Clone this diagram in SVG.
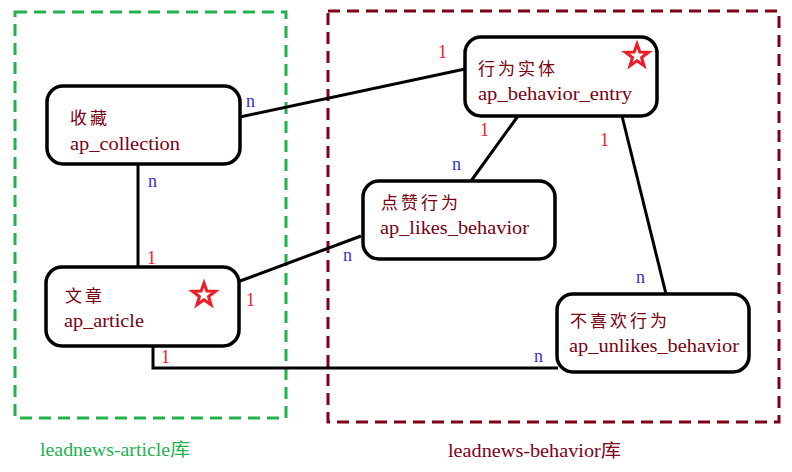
<svg xmlns="http://www.w3.org/2000/svg" width="792" height="472" viewBox="0 0 792 472">
<defs>
<style>
.bg{fill:#fff}
.node rect{fill:#fff;stroke:#000;stroke-width:3.5}
.cn{font-family:"Liberation Serif","Noto Sans CJK SC",serif;font-size:17px;fill:#7a0010;letter-spacing:3px}
.en{font-family:"Liberation Serif",serif;font-size:18px;fill:#7a0010}
.conn line,.conn polyline{stroke:#000;stroke-width:3;fill:none}
.one{font-family:"Liberation Serif",serif;font-size:18px;fill:#ee2222}
.many{font-family:"Liberation Serif",serif;font-size:18px;fill:#3333cc}
.star{fill:none;stroke:#ee1c24;stroke-width:3}
.box{fill:none;stroke-width:3;stroke-dasharray:12 7}
.db{font-family:"Liberation Serif","Noto Sans CJK SC",serif;font-size:18px}
</style>
<polygon id="star" points="0,-12 2.82,-3.89 11.41,-3.71 4.56,1.49 7.05,9.71 0,4.8 -7.05,9.71 -4.56,1.49 -11.41,-3.71 -2.82,-3.89"/>
</defs>
<rect class="bg" width="792" height="472"/>
<g id="db-article">
<rect class="box" x="15" y="12" width="271" height="406" stroke="#22b14c"/>
<text class="db" x="40" y="456" fill="#22b14c" textLength="150" lengthAdjust="spacingAndGlyphs">leadnews-article库</text>
</g>
<g id="db-behavior">
<rect class="box" x="328" y="11" width="451" height="411" stroke="#7f0019"/>
<text class="db" x="448" y="457" fill="#7f0019" textLength="173" lengthAdjust="spacingAndGlyphs">leadnews-behavior库</text>
</g>
<g id="connectors" class="conn">
<line x1="138" y1="164" x2="138" y2="267"/>
<line x1="240" y1="117" x2="465" y2="69"/>
<line x1="240" y1="281" x2="361" y2="236"/>
<polyline points="153,346 153,368 558,368"/>
<line x1="518" y1="116" x2="471" y2="181"/>
<line x1="622" y1="116" x2="666" y2="294"/>
</g>
<g id="labels">
<text class="many" x="148" y="187">n</text>
<text class="one" x="147" y="264">1</text>
<text class="many" x="246" y="107">n</text>
<text class="one" x="438" y="58">1</text>
<text class="one" x="246" y="306">1</text>
<text class="many" x="343" y="261">n</text>
<text class="one" x="161" y="363">1</text>
<text class="many" x="534" y="362">n</text>
<text class="one" x="480" y="136">1</text>
<text class="many" x="452" y="170">n</text>
<text class="one" x="600" y="146">1</text>
<text class="many" x="636" y="283">n</text>
</g>
<g id="ap_collection" class="node">
<rect x="47" y="86" width="193" height="78" rx="16"/>
<text class="cn" x="70" y="124">收藏</text>
<text class="en" x="70" y="150" textLength="110" lengthAdjust="spacingAndGlyphs">ap_collection</text>
</g>
<g id="ap_article" class="node">
<rect x="46" y="267" width="193" height="79" rx="16"/>
<text class="cn" x="65" y="302">文章</text>
<text class="en" x="64" y="327" textLength="80" lengthAdjust="spacingAndGlyphs">ap_article</text>
<use href="#star" class="star" x="204" y="295"/>
</g>
<g id="ap_behavior_entry" class="node">
<rect x="465" y="37" width="192" height="79" rx="16"/>
<text class="cn" x="478" y="75">行为实体</text>
<text class="en" x="478" y="100" textLength="154" lengthAdjust="spacingAndGlyphs">ap_behavior_entry</text>
<use href="#star" class="star" x="637" y="56"/>
</g>
<g id="ap_likes_behavior" class="node">
<rect x="363" y="181" width="192" height="78" rx="16"/>
<text class="cn" x="381" y="209">点赞行为</text>
<text class="en" x="380" y="234" textLength="149" lengthAdjust="spacingAndGlyphs">ap_likes_behavior</text>
</g>
<g id="ap_unlikes_behavior" class="node">
<rect x="557" y="294" width="192" height="78" rx="16"/>
<text class="cn" x="570" y="327">不喜欢行为</text>
<text class="en" x="569" y="352" textLength="170" lengthAdjust="spacingAndGlyphs">ap_unlikes_behavior</text>
</g>
</svg>
